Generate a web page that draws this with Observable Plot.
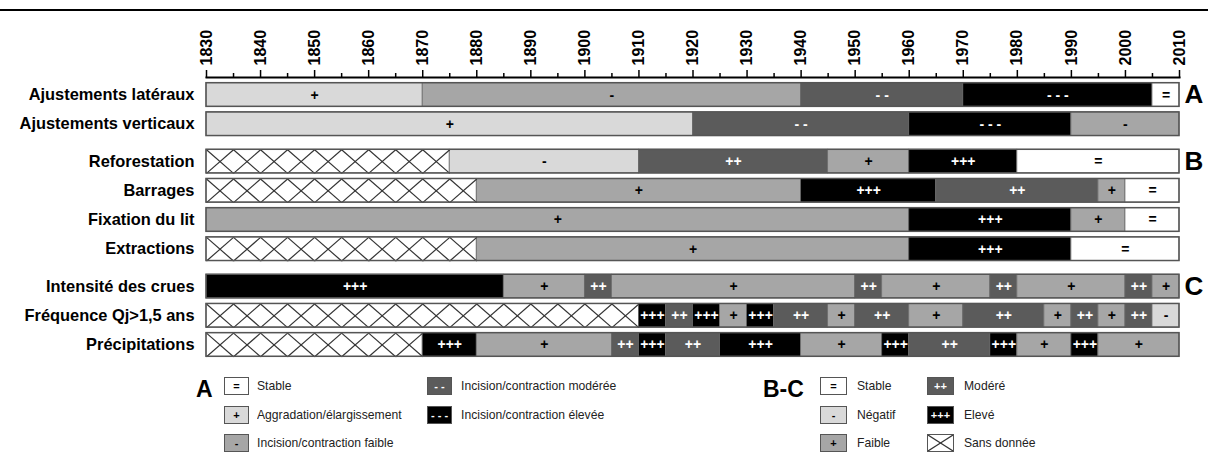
<!DOCTYPE html>
<html><head><meta charset="utf-8">
<script src="https://cdn.jsdelivr.net/npm/d3@7"></script>
<script src="https://cdn.jsdelivr.net/npm/@observablehq/plot@0.6"></script>
<style>
html,body{margin:0;padding:0;background:#fff;}
body{width:1208px;height:452px;overflow:hidden;position:relative;font-family:"Liberation Sans",Arial,sans-serif;}
#topline{position:absolute;left:0;top:9px;width:1208px;height:2px;background:#000;}
#chart{position:absolute;left:0;top:0;}
.lgt{position:absolute;font-size:13.5px;color:#222;line-height:18px;white-space:nowrap;transform:scaleX(0.9);transform-origin:left center;}
.lgh{position:absolute;font-size:23px;font-weight:bold;color:#000;line-height:23px;}
.sw{position:absolute;height:18px;border:1px solid #555;box-sizing:border-box;font-weight:bold;font-size:11px;text-align:center;line-height:16px;overflow:hidden;}
</style>
</head><body>
<div id="topline"></div>
<div id="chart"></div>
<div id="legend"></div>
<script>
// ---------- data ----------
const rowNames = ["Ajustements latéraux","Ajustements verticaux","Reforestation","Barrages","Fixation du lit","Extractions","Intensité des crues","Fréquence Qj>1,5 ans","Précipitations"];
const rowGroups = ["A","A","B","B","B","B","C","C","C"];

const ajustLateraux = [[1830,1870,"+"],[1870,1940,"-"],[1940,1970,"--"],[1970,2005,"---"],[2005,2010,"="]];
const ajustVerticaux = [[1830,1920,"+"],[1920,1960,"--"],[1960,1990,"---"],[1990,2010,"-"]];
const reforestation = [[1830,1875,"x"],[1875,1910,"-"],[1910,1945,"++"],[1945,1960,"+"],[1960,1980,"+++"],[1980,2010,"="]];
const barrages = [[1830,1880,"x"],[1880,1940,"+"],[1940,1965,"+++"],[1965,1995,"++"],[1995,2000,"+"],[2000,2010,"="]];
const fixation = [[1830,1960,"+"],[1960,1990,"+++"],[1990,2000,"+"],[2000,2010,"="]];
const extractions = [[1830,1880,"x"],[1880,1960,"+"],[1960,1990,"+++"],[1990,2010,"="]];
const intensite = [[1830,1885,"+++"],[1885,1900,"+"],[1900,1905,"++"],[1905,1950,"+"],[1950,1955,"++"],[1955,1975,"+"],[1975,1980,"++"],[1980,2000,"+"],[2000,2005,"++"],[2005,2010,"+"]];
const frequence = [[1830,1910,"x"],[1910,1915,"+++"],[1915,1920,"++"],[1920,1925,"+++"],[1925,1930,"+"],[1930,1935,"+++"],[1935,1945,"++"],[1945,1950,"+"],[1950,1960,"++"],[1960,1970,"+"],[1970,1985,"++"],[1985,1990,"+"],[1990,1995,"++"],[1995,2000,"+"],[2000,2005,"++"],[2005,2010,"-"]];
const precipitations = [[1830,1870,"x"],[1870,1880,"+++"],[1880,1905,"+"],[1905,1910,"++"],[1910,1915,"+++"],[1915,1925,"++"],[1925,1940,"+++"],[1940,1955,"+"],[1955,1960,"+++"],[1960,1975,"++"],[1975,1980,"+++"],[1980,1990,"+"],[1990,1995,"+++"],[1995,2010,"+"]];
const rowSegments = [ajustLateraux, ajustVerticaux, reforestation, barrages, fixation, extractions, intensite, frequence, precipitations];

const majorTicks = d3.range(1830, 2011, 10);
const minorTicks = d3.range(1835, 2010, 10);

const legendA = [
  {code:"=", label:"Stable"},
  {code:"+", label:"Aggradation/élargissement"},
  {code:"-", label:"Incision/contraction faible"},
  {code:"--", label:"Incision/contraction modérée"},
  {code:"---", label:"Incision/contraction élevée"}
];
const legendBC = [
  {code:"=", label:"Stable"},
  {code:"-", label:"Négatif"},
  {code:"+", label:"Faible"},
  {code:"++", label:"Modéré"},
  {code:"+++", label:"Elevé"},
  {code:"x", label:"Sans donnée"}
];

// ---------- styles ----------
const fillA = {"=":"#ffffff","+":"#d9d9d9","-":"#a6a6a6","--":"#5b5b5b","---":"#000000"};
const fillBC = {"=":"#ffffff","-":"#d9d9d9","+":"#a6a6a6","++":"#5b5b5b","+++":"#000000","x":"#ffffff"};
const darkCodes = new Set(["--","---","++","+++"]);
const shown = c => c === "--" ? "- -" : c === "---" ? "- - -" : c === "x" ? "" : c;
const fillOf = (g, c) => (g === "A" ? fillA : fillBC)[c];

// ---------- derived tables ----------
const groupOrder = ["A","B","C"];
const GAP = 0.28, HALF = 0.405;
const rows = rowNames.map((name, i) => ({name, group: rowGroups[i], pos: i + GAP * groupOrder.indexOf(rowGroups[i])}));
const segs = rows.flatMap((r, i) => rowSegments[i].map(([a, b, c]) => ({name: r.name, group: r.group, pos: r.pos, a, b, code: c})));
const hatch = segs.filter(s => s.code === "x").flatMap(s =>
  d3.range(s.a, s.b, 5).flatMap(y0 => [
    {x1: y0, x2: y0 + 5, y1: s.pos - HALF, y2: s.pos + HALF},
    {x1: y0, x2: y0 + 5, y1: s.pos + HALF, y2: s.pos - HALF}
  ]));
const groupHeads = groupOrder.map(g => rows.find(r => r.group === g));

const FONT = "Liberation Sans, Arial, sans-serif";
const plot = Plot.plot({
  width: 1208, height: 365,
  marginLeft: 206, marginRight: 29, marginTop: 77, marginBottom: 0,
  style: {fontFamily: FONT, background: "transparent", color: "#000"},
  x: {domain: [1830, 2010], label: null},
  y: {domain: [-0.6, 9.263], reverse: true, axis: null, label: null},
  marks: [
    Plot.rect(segs, {x1: "a", x2: "b", y1: d => d.pos - HALF, y2: d => d.pos + HALF,
      fill: d => fillOf(d.group, d.code), stroke: "#6a6a6a", strokeWidth: 0.8}),
    Plot.link(hatch, {x1: "x1", x2: "x2", y1: "y1", y2: "y2", stroke: "#333", strokeWidth: 1.2}),
    Plot.rect(rows, {x1: () => 1830, x2: () => 2010, y1: d => d.pos - HALF, y2: d => d.pos + HALF,
      fill: "none", stroke: "#555", strokeWidth: 1.5}),
    Plot.text(segs, {x: d => (d.a + d.b) / 2, y: "pos", text: d => shown(d.code),
      fill: d => darkCodes.has(d.code) ? "#fff" : "#000", fontWeight: "bold", fontSize: 14}),
    Plot.text(rows, {y: "pos", text: "name", frameAnchor: "left", dx: -12, textAnchor: "end",
      fontWeight: "bold", fontSize: 16.4, fill: "#000"}),
    Plot.text(groupHeads, {y: "pos", text: "group", frameAnchor: "right", dx: 5, textAnchor: "start",
      fontWeight: "bold", fontSize: 26, fill: "#000"}),
    Plot.frame({anchor: "top", stroke: "#000", strokeWidth: 2}),
    Plot.axisX(minorTicks, {anchor: "top", tickSize: 5, strokeWidth: 1.5, tickFormat: () => "", label: null}),
    Plot.axisX(majorTicks, {anchor: "top", tickSize: 8, tickPadding: 4, tickRotate: -90, strokeWidth: 1.5,
      tickFormat: d => String(d), fontSize: 16, fontWeight: "bold", label: null})
  ]
});
document.getElementById("chart").appendChild(plot);

// ---------- legend ----------
const legend = document.getElementById("legend");
function add(cls, left, top, html, extra) {
  const el = document.createElement("div");
  el.className = cls;
  el.style.left = left + "px";
  el.style.top = top + "px";
  if (extra) Object.assign(el.style, extra);
  el.innerHTML = html;
  legend.appendChild(el);
}
const rowTops = [377, 405.5, 434];
function swatch(item, group, left, top, w) {
  const fill = fillOf(group, item.code);
  const col = darkCodes.has(item.code) ? "#fff" : "#000";
  let inner = shown(item.code);
  if (item.code === "x") inner = `<svg width="${w-2}" height="16" style="display:block"><line x1="0" y1="0" x2="${w-2}" y2="16" stroke="#333" stroke-width="1.2"/><line x1="0" y1="16" x2="${w-2}" y2="0" stroke="#333" stroke-width="1.2"/></svg>`;
  add("sw", left, top, inner, {width: w + "px", background: fill, color: col});
}
add("lgh", 196, 378, "A");
legendA.forEach((it, i) => {
  const col = i < 3 ? 0 : 1, r = i < 3 ? i : i - 3;
  const bx = col === 0 ? 224 : 427, tx = col === 0 ? 257 : 461;
  swatch(it, "A", bx, rowTops[r], 25);
  add("lgt", tx, rowTops[r], it.label);
});
add("lgh", 763, 378, "B-C");
legendBC.forEach((it, i) => {
  const col = i < 3 ? 0 : 1, r = i % 3;
  const bx = col === 0 ? 820 : 927, tx = col === 0 ? 857 : 964;
  swatch(it, "BC", bx, rowTops[r], 27);
  add("lgt", tx, rowTops[r], it.label);
});
</script>
</body></html>
